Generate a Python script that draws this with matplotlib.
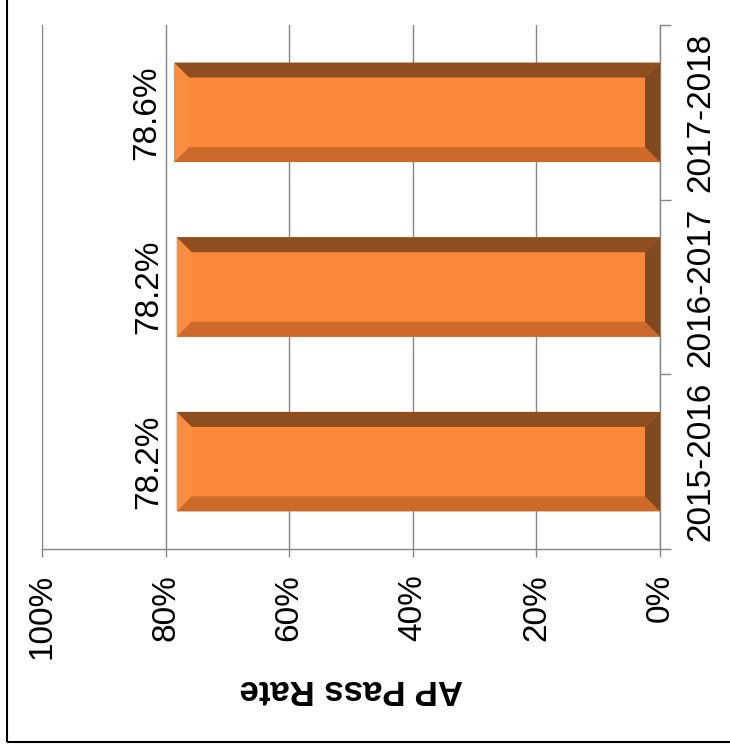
import matplotlib.pyplot as plt
from matplotlib.patches import Polygon, Rectangle

plt.rcParams['font.family'] = 'Liberation Sans'
FONT = 'Liberation Sans'

categories = ['2015-2016', '2016-2017', '2017-2018']
pass_rate = [78.2, 78.2, 78.6]
labels = ['78.2%', '78.2%', '78.6%']
ticks = [0, 20, 40, 60, 80, 100]
tick_labels = ['0%', '20%', '40%', '60%', '80%', '100%']

W, H = 730, 756
fig = plt.figure(figsize=(W / 100, H / 100), dpi=100)
# plot area in pixels: x 42..660, y 25..549
ax = fig.add_axes([42 / W, 1 - 549 / H, (660 - 42) / W, (549 - 25) / H])

grey = '#868686'
face = '#F98838'
bar_h = 0.57
pos = list(range(len(categories)))

ax.barh(pos, pass_rate, height=bar_h, color=face, edgecolor='none', zorder=3)

# bevel strips, sizes in pixels converted to data units
bx = 15 * 100 / 618
by = 15 / ((549 - 25) / 3)
h = bar_h / 2
for c, v in zip(pos, pass_rate):
    top = [(v, c + h), (0, c + h), (bx, c + h - by), (v - bx, c + h - by)]
    bot = [(v, c - h), (0, c - h), (bx, c - h + by), (v - bx, c - h + by)]
    near0 = [(0, c + h), (0, c - h), (bx, c - h + by), (bx, c + h - by)]
    end = [(v, c + h), (v, c - h), (v - bx, c - h + by), (v - bx, c + h - by)]
    for pts, col in [(end, '#FA8E40'), (top, '#8F4E1F'), (bot, '#CD6A2B'), (near0, '#7E4A22')]:
        ax.add_patch(Polygon(pts, closed=True, facecolor=col, edgecolor='none', zorder=4))

for c, v, lab in zip(pos, pass_rate, labels):
    ax.annotate(lab, xy=(v, c), xytext=(-9, 0), textcoords='offset points',
                rotation=90, ha='right', va='center', fontsize=24, family=FONT)

ax.set_xlim(100, 0)
ax.set_ylim(-0.5, len(categories) - 0.5)
ax.set_xticks(ticks)
ax.set_xticklabels(tick_labels, rotation=90, fontsize=24, family=FONT)
ax.tick_params(axis='x', direction='out', length=6, width=1, color=grey, pad=12)

ax.yaxis.tick_right()
ax.set_yticks(pos)
ax.set_yticklabels(categories, rotation=90, va='center', fontsize=24, family=FONT)
ax.set_yticks([-0.5, 0.5, 1.5, 2.5], minor=True)
ax.tick_params(axis='y', which='major', length=0, pad=18)
ax.tick_params(axis='y', which='minor', direction='out', length=8, width=1, color=grey)

ax.grid(axis='x', color=grey, linewidth=1, zorder=0)
for s in ['top', 'left']:
    ax.spines[s].set_visible(False)
for s in ['bottom', 'right']:
    ax.spines[s].set_color(grey)
    ax.spines[s].set_linewidth(1)

fig.text((42 + 660) / 2 / W, 1 - 690 / H, 'AP Pass Rate', rotation=180,
         ha='center', va='center', fontsize=25, fontweight='bold', family=FONT)

# outer chart border (top and right edges fall outside the image)
fig.patches.append(Rectangle((7 / W, 1 - 742 / H), 1, 1, transform=fig.transFigure,
                             fill=False, edgecolor='black', linewidth=1.5))

fig.savefig('out.png', dpi=100)
